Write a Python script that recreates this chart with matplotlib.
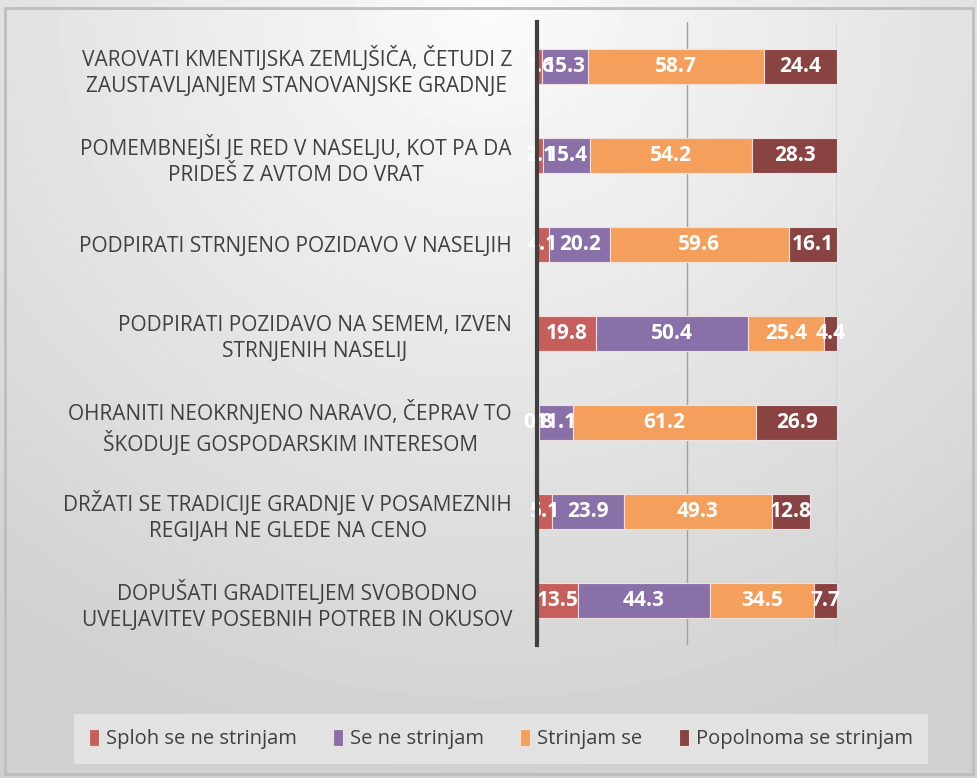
import numpy as np
import matplotlib
matplotlib.use('Agg')
import matplotlib.pyplot as plt
from matplotlib.patches import Rectangle

categories = [
    'VAROVATI KMENTIJSKA ZEMLJŠIČA, ČETUDI Z\nZAUSTAVLJANJEM STANOVANJSKE GRADNJE',
    'POMEMBNEJŠI JE RED V NASELJU, KOT PA DA\nPRIDEŠ Z AVTOM DO VRAT',
    'PODPIRATI STRNJENO POZIDAVO V NASELJIH',
    'PODPIRATI POZIDAVO NA SEMEM, IZVEN\nSTRNJENIH NASELIJ',
    'OHRANITI NEOKRNJENO NARAVO, ČEPRAV TO\nŠKODUJE GOSPODARSKIM INTERESOM',
    'DRŽATI SE TRADICIJE GRADNJE V POSAMEZNIH\nREGIJAH NE GLEDE NA CENO',
    'DOPUŠATI GRADITELJEM SVOBODNO\nUVELJAVITEV POSEBNIH POTREB IN OKUSOV',
]
series_names = ['Sploh se ne strinjam', 'Se ne strinjam', 'Strinjam se', 'Popolnoma se strinjam']
sploh_ne = [1.6, 2.1, 4.1, 19.8, 0.8, 5.1, 13.5]
ne = [15.3, 15.4, 20.2, 50.4, 11.1, 23.9, 44.3]
strinjam = [58.7, 54.2, 59.6, 25.4, 61.2, 49.3, 34.5]
popolnoma = [24.4, 28.3, 16.1, 4.4, 26.9, 12.8, 7.7]

colors = ['#c65f5b', '#8a70a8', '#f4a05c', '#8a4343']

plt.rcParams['font.family'] = ['Open Sans', 'DejaVu Sans']

fig = plt.figure(figsize=(9.78, 7.78), dpi=100)

# gradient background
bg = fig.add_axes([0, 0, 1, 1], zorder=-10)
yy, xx = np.mgrid[0:1:200j, 0:1:200j]
dist = np.sqrt(((xx - 0.5) * 1.2) ** 2 + (yy * 1.0) ** 2)
shade = 0.985 - 0.17 * np.clip(dist, 0, 1)
bg.imshow(shade, cmap='gray', vmin=0, vmax=1, extent=[0, 1, 0, 1], aspect='auto', origin='upper')
bg.add_patch(Rectangle((0.005, 0.005), 0.99, 0.985, fill=False, edgecolor='#bdbdbd', linewidth=2))
bg.set_xlim(0, 1)
bg.set_ylim(0, 1)
bg.axis('off')

ax = fig.add_axes([537 / 978, 1 - 645 / 778, 300 / 978, 623 / 778])
ax.patch.set_alpha(0)

y = np.arange(len(categories))
data = [sploh_ne, ne, strinjam, popolnoma]
left = np.zeros(len(categories))
for vals, c, name in zip(data, colors, series_names):
    vals = np.array(vals)
    ax.barh(y, vals, left=left, height=0.4, color=c, edgecolor='#f0e0e0', linewidth=0.8, label=name, zorder=3)
    for yi, l, v in zip(y, left, vals):
        ax.text(l + v / 2, yi, '{:.1f}'.format(v), ha='center', va='center', color='white',
                fontsize=15, fontweight='bold', zorder=5)
    left += vals

ax.set_xlim(0, 100)
ax.set_ylim(len(categories) - 0.5, -0.5)
ax.set_yticks(y)
ax.set_yticklabels(categories, fontsize=15, color='#404040', multialignment='center', linespacing=1.3)
ax.tick_params(axis='y', length=0, pad=18)
ax.set_xticks([0, 50, 100])
ax.set_xticklabels([])
ax.tick_params(axis='x', length=0)
ax.grid(axis='x', color='#a0a0a0', linewidth=1, zorder=0)
for s in ['top', 'right', 'bottom']:
    ax.spines[s].set_visible(False)
ax.spines['left'].set_color('#404040')
ax.spines['left'].set_linewidth(3)
ax.spines['left'].set_zorder(6)

leg = fig.legend(loc='center', bbox_to_anchor=(0.512, 1 - 739 / 778), ncol=4, fontsize=14.5,
                 frameon=True, fancybox=False, handlelength=0.5, handleheight=0.9,
                 handletextpad=0.35, columnspacing=1.8, borderpad=0.75)
leg.get_frame().set_facecolor('#e2e2e2')
leg.get_frame().set_edgecolor('none')
leg.get_frame().set_alpha(1)
for t in leg.get_texts():
    t.set_color('#404040')

fig.savefig('out.png', dpi=100)
